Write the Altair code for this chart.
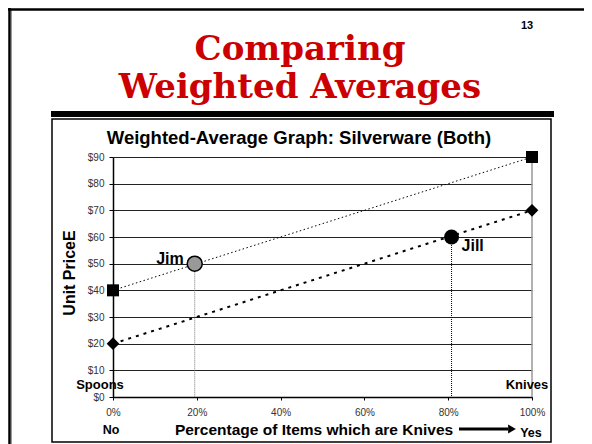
import altair as alt
import pandas as pd

# ---- data ----
ends_pct = [0, 100]
upper_price = [40, 90]      # square-marked line
lower_price = [20, 70]      # diamond-marked line
people = ["Jim", "Jill"]
people_pct = [19.5, 80.8]
people_price = [50, 60]
x_ticks = [0, 20, 40, 60, 80, 100]
y_ticks = [0, 10, 20, 30, 40, 50, 60, 70, 80, 90]

W, H = 419, 240
PAD = {"left": 105, "top": 149, "right": 52, "bottom": 47}
FONT = "Liberation Sans"

upper = pd.DataFrame({"pct": ends_pct, "price": upper_price})
lower = pd.DataFrame({"pct": ends_pct, "price": lower_price})
ppl = pd.DataFrame({"name": people, "pct": people_pct, "price": people_price, "base": [0, 0]})
edge = pd.DataFrame({"pct": [ends_pct[-1]], "price": [upper_price[-1]], "base": [0]})
one = pd.DataFrame({"k": [0]})

xs = alt.Scale(domain=[0, 100], nice=False)
ys = alt.Scale(domain=[0, 90], nice=False)

x_axis = alt.Axis(values=x_ticks, labelExpr="datum.value + '%'", title=None, grid=False,
                  domainColor="black", domainWidth=1.5, tickColor="black", tickSize=3,
                  labelPadding=7, labelFont=FONT, labelFontSize=10, labelColor="#333",
                  labelFlush=False)
y_axis = alt.Axis(values=y_ticks, labelExpr="'$' + datum.value", title=None, grid=True,
                  gridColor="#222", gridWidth=1, domainColor="black", domainWidth=1.5,
                  tickColor="black", tickSize=4, labelPadding=5, labelFont=FONT,
                  labelFontSize=10, labelColor="#333")


def X():
    return alt.X("pct:Q", scale=xs, axis=x_axis)


def Y():
    return alt.Y("price:Q", scale=ys, axis=y_axis)


def txt(s, x, y, size, color="black", font=FONT, weight="bold", align="center",
        angle=0, baseline="middle"):
    return alt.Chart(one).mark_text(text=s, fontSize=size, font=font, fontWeight=weight,
                                    color=color, align=align, angle=angle,
                                    baseline=baseline).encode(x=alt.value(x), y=alt.value(y))


def rule(x, x2, y, y2, width, color="black"):
    return alt.Chart(one).mark_rule(color=color, strokeWidth=width).encode(
        x=alt.value(x), x2=alt.value(x2), y=alt.value(y), y2=alt.value(y2))


# decorations (slide frame, header bar, chart box)
frame_left = rule(-103.5, -103.5, -149, H + 47, 2.5)
frame_left_sh = rule(-101.5, -101.5, -147, H + 47, 1, "#999")
frame_top = rule(-105, W + 52, -147.5, -147.5, 2.5)
header_bar = rule(-62, 441, -43, -43, 6)
box = alt.Chart(one).mark_rect(fillOpacity=0, stroke="black", strokeWidth=1.5).encode(
    x=alt.value(-61), x2=alt.value(438), y=alt.value(-38), y2=alt.value(285))
right_mask = rule(W + 50, W + 50, -146, H + 47, 5, "white")

# data layers
upper_line = alt.Chart(upper).mark_line(color="black", strokeWidth=1, strokeDash=[1.5, 2.5]).encode(
    x=X(), y=Y())
right_edge = alt.Chart(edge).mark_rule(color="#999", strokeWidth=1.5).encode(
    x=X(), y=Y(), y2="base:Q")
lower_line = alt.Chart(lower).mark_line(color="black", strokeWidth=2, strokeDash=[3, 5]).encode(
    x=X(), y=Y())

jim_drop = alt.Chart(ppl).transform_filter("datum.name == 'Jim'").mark_rule(
    color="#777", strokeWidth=1, strokeDash=[1, 1]).encode(x=X(), y=Y(), y2="base:Q")
jill_drop = alt.Chart(ppl).transform_filter("datum.name == 'Jill'").mark_rule(
    color="black", strokeWidth=1, strokeDash=[1, 1]).encode(x=X(), y=Y(), y2="base:Q")

squares = alt.Chart(upper).mark_point(shape="square", filled=True, color="black", size=144,
                                      opacity=1).encode(x=X(), y=Y())
diamonds = alt.Chart(lower).mark_point(shape="diamond", filled=True, color="black", size=160,
                                       opacity=1).encode(x=X(), y=Y())

jim_pt = alt.Chart(ppl).transform_filter("datum.name == 'Jim'").mark_point(
    shape="circle", filled=True, fill="#999", stroke="black", strokeWidth=1.5, size=225,
    opacity=1).encode(x=X(), y=Y())
jill_pt = alt.Chart(ppl).transform_filter("datum.name == 'Jill'").mark_point(
    shape="circle", filled=True, color="black", size=225, opacity=1).encode(x=X(), y=Y())

jim_lbl = alt.Chart(ppl).transform_filter("datum.name == 'Jim'").mark_text(
    align="right", dx=-11, dy=-5, fontSize=16, fontWeight="bold", font=FONT).encode(
    x=X(), y=Y(), text="name:N")
jill_lbl = alt.Chart(ppl).transform_filter("datum.name == 'Jill'").mark_text(
    align="left", dx=10, dy=9, fontSize=16, fontWeight="bold", font=FONT).encode(
    x=X(), y=Y(), text="name:N")

arrow_shaft = rule(346, 395, 272, 272, 3)
arrow_head = alt.Chart(one).mark_point(shape="triangle-right", filled=True, color="black",
                                       size=80, opacity=1).encode(x=alt.value(399), y=alt.value(272))

texts = [
    txt("13", 414, -131, 11),
    txt("Comparing", 187, -97, 34, color="#CC0000", font="DejaVu Serif", baseline="alphabetic"),
    txt("Weighted Averages", 187, -59, 34, color="#CC0000", font="DejaVu Serif",
        baseline="alphabetic"),
    txt("Weighted-Average Graph: Silverware (Both)", 186, -13, 18.5, baseline="alphabetic"),
    txt("Unit PriceE", -43, 116, 16, angle=270),
    txt("Percentage of Items which are Knives", 201, 273, 15.5),
    txt("No", -2, 273, 12.5),
    txt("Yes", 418, 276, 12.5),
    txt("Spoons", -13, 228, 13),
    txt("Knives", 414, 228, 13),
]

chart = alt.layer(
    frame_left, frame_left_sh, frame_top, header_bar, box,
    upper_line, right_edge, lower_line, jim_drop, jill_drop,
    squares, diamonds, jim_pt, jill_pt, jim_lbl, jill_lbl,
    arrow_shaft, arrow_head, *texts, right_mask,
).properties(
    width=W, height=H, padding=PAD, autosize=alt.AutoSizeParams(type="none"),
    background="white",
).configure_view(stroke=None)

chart.save("out.html", embed_options={"renderer": "svg", "actions": False})
